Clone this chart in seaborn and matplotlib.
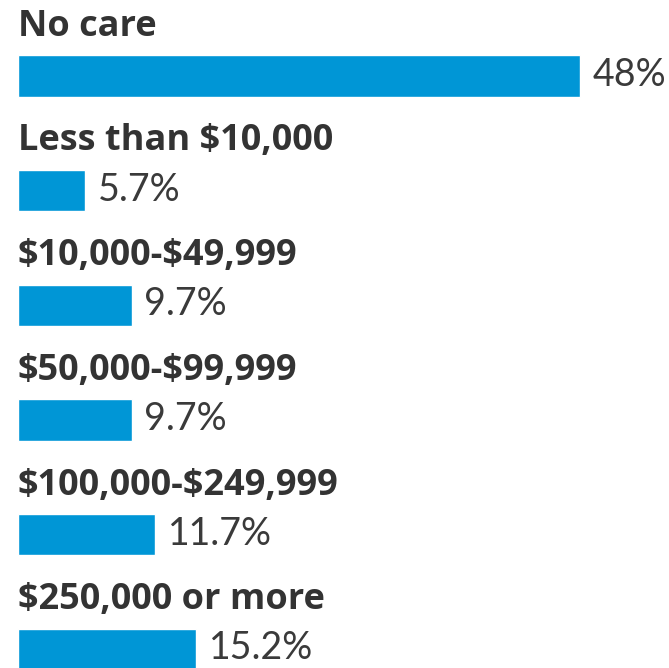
import matplotlib
matplotlib.use('Agg')
import matplotlib.pyplot as plt
import seaborn as sns
import pandas as pd

# data
categories = ['No care', 'Less than $10,000', '$10,000-$49,999', '$50,000-$99,999',
              '$100,000-$249,999', '$250,000 or more']
values = [48, 5.7, 9.7, 9.7, 11.7, 15.2]
value_labels = ['48%', '5.7%', '9.7%', '9.7%', '11.7%', '15.2%']

df = pd.DataFrame({'kategori': categories, 'persen': values})

sns.set_style('white')
plt.rcParams['font.family'] = ['Open Sans', 'DejaVu Sans']
plt.rcParams['text.parse_math'] = False  # supaya tanda $ tidak jadi mathtext

fig = plt.figure(figsize=(6.69, 6.68), dpi=100)
ax = fig.add_axes([0, 0, 1, 1])

sns.barplot(data=df, y='kategori', x='persen', orient='h', color='#0096D6',
            width=0.36, saturation=1, ax=ax)

# judul kategori di atas batang, angka persen di kanan batang
for i, (cat, lbl, v) in enumerate(zip(categories, value_labels, values)):
    ax.text(0, i - 0.43, cat, ha='left', va='center', fontsize=26,
            fontweight='bold', color='#333333')
    ax.text(v + 1.1, i - 0.01, lbl, ha='left', va='center', fontsize=27,
            family=['Lato', 'DejaVu Sans'], fontweight='normal', color='#3a3a3a')

ax.set_xlim(-1.537, 55.6)
ax.set_ylim(5.161, -0.663)
ax.axis('off')

fig.savefig('out.png', dpi=100)
